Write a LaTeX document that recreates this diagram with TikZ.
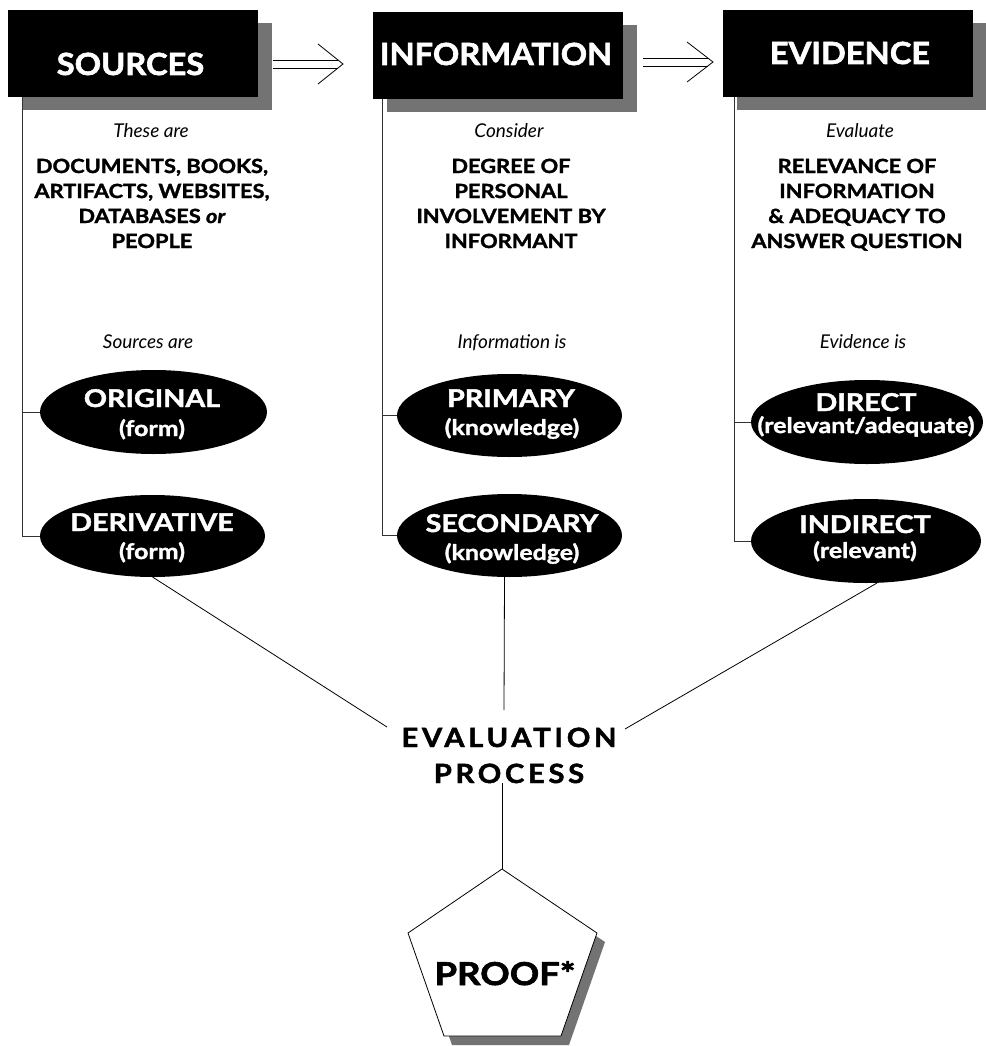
\documentclass[tikz,border=0pt]{standalone}
\usepackage{fontspec}
\setmainfont{Lato}
\usetikzlibrary{shapes.geometric}
\tikzset{
  hbox/.style={fill=black, minimum width=250pt, minimum height=87pt, inner sep=0pt, outer sep=0pt},
  hshadow/.style={fill=black!55, minimum width=250pt, minimum height=87pt, inner sep=0pt, outer sep=0pt},
  htext/.style={text=white, font=\fontsize{30.5}{30.5}\selectfont\bfseries\addfontfeatures{FakeStretch=1.07,FakeBold=2}, anchor=base, inner sep=0pt},
  ital/.style={font=\fontsize{19}{19}\selectfont\itshape, anchor=base, inner sep=0pt},
  bodyline/.style={font=\fontsize{19.5}{19.5}\selectfont\bfseries\addfontfeatures{FakeStretch=1.12,FakeBold=1.6}, anchor=base, inner sep=0pt},
  ellbg/.style={ellipse, fill=black, inner sep=0pt, outer sep=0pt},
  etitle/.style={text=white, font=\fontsize{24.5}{24.5}\selectfont\bfseries\addfontfeatures{FakeStretch=1.17,FakeBold=1.8}, anchor=base, inner sep=0pt},
  esub/.style={text=white, font=\fontsize{21.5}{21.5}\selectfont\bfseries\addfontfeatures{FakeStretch=1.16,FakeBold=1.5}, anchor=base, inner sep=0pt},
  vline/.style={draw=black!80, line width=0.9pt},
  conn/.style={draw=black, line width=0.8pt},
  arrline/.style={draw=black, line width=0.8pt},
  evtext/.style={font=\fontsize{26.5}{26.5}\selectfont\bfseries\addfontfeatures{FakeStretch=1.1,FakeBold=1.8,LetterSpace=14}, anchor=base, inner sep=0pt},
  prooftext/.style={font=\fontsize{31.5}{31.5}\selectfont\bfseries\addfontfeatures{FakeStretch=1.16,FakeBold=2}, anchor=base, inner sep=0pt},
}
\begin{document}
\begin{tikzpicture}[x=1pt,y=-1pt]
\useasboundingbox (0,0) rectangle (985,1046);
\fill[white] (0,0) rectangle (985,1046);

% header boxes with shadows
\node[hshadow] (srcsh) at (146.5,67) {};
\node[hbox] (srcbox) at (133,53.5) {};
\node[hshadow] (infsh) at (511.5,69) {};
\node[hbox] (infbox) at (498,55.5) {};
\node[hshadow] (evdsh) at (861.5,67) {};
\node[hbox] (evdbox) at (848,53.5) {};
\node[htext] (srct) at (130.5,75) {SOURCES};
\node[htext] (inft) at (496,65) {INFORMATION};
\node[htext] (evdt) at (850,64) {EVIDENCE};

% double arrows
\coordinate (a1s) at (273,64);
\coordinate (a1e) at (343,64);
\draw[arrline] ([yshift=4pt]a1s) -- ([xshift=-5pt,yshift=4pt]a1e);
\draw[arrline] ([yshift=-4pt]a1s) -- ([xshift=-5pt,yshift=-4pt]a1e);
\draw[arrline] ([xshift=-25pt,yshift=20pt]a1e) -- (a1e) -- ([xshift=-25pt,yshift=-20pt]a1e);
\coordinate (a2s) at (643,62);
\coordinate (a2e) at (713,62);
\draw[arrline] ([yshift=4pt]a2s) -- ([xshift=-5pt,yshift=4pt]a2e);
\draw[arrline] ([yshift=-4pt]a2s) -- ([xshift=-5pt,yshift=-4pt]a2e);
\draw[arrline] ([xshift=-26pt,yshift=20pt]a2e) -- (a2e) -- ([xshift=-26pt,yshift=-20pt]a2e);

% column texts
\node[ital] (srci1) at (151,138) {These are};
\node[bodyline] (srcb1) at (152,173) {DOCUMENTS, BOOKS,};
\node[bodyline] (srcb2) at (152,198) {ARTIFACTS, WEBSITES,};
\node[bodyline] (srcb3) at (152,223) {DATABASES \textit{or}};
\node[bodyline] (srcb4) at (152,248) {PEOPLE};
\node[ital] (srci2) at (148,348) {Sources are};

\node[ital] (infi1) at (509,138) {Consider};
\node[bodyline] (infb1) at (511,173) {DEGREE OF};
\node[bodyline] (infb2) at (511,198) {PERSONAL};
\node[bodyline] (infb3) at (511,223) {INVOLVEMENT BY};
\node[bodyline] (infb4) at (511,248) {INFORMANT};
\node[ital] (infi2) at (512,348) {Information is};

\node[ital] (evdi1) at (860,138) {Evaluate};
\node[bodyline] (evdb1) at (857,173) {RELEVANCE OF};
\node[bodyline] (evdb2) at (857,198) {INFORMATION};
\node[bodyline] (evdb3) at (857,223) {\& ADEQUACY TO};
\node[bodyline] (evdb4) at (857,248) {ANSWER QUESTION};
\node[ital] (evdi2) at (863,348) {Evidence is};

% ellipses
\node[ellbg, minimum width=227pt, minimum height=84pt] (orig) at (153.5,412) {};
\node[ellbg, minimum width=225pt, minimum height=82pt] (deriv) at (152.5,536) {};
\node[ellbg, minimum width=225pt, minimum height=83pt] (prim) at (509.5,415.5) {};
\node[ellbg, minimum width=225pt, minimum height=83pt] (sec) at (509.5,535.5) {};
\node[ellbg, minimum width=232pt, minimum height=84pt] (dir) at (867,422) {};
\node[ellbg, minimum width=230pt, minimum height=84pt] (ind) at (866,541) {};

\node[etitle] (origt) at (152,407) {ORIGINAL};
\node[esub] (origs) at (152,436) {(form)};
\node[etitle] (derivt) at (152,531) {DERIVATIVE};
\node[esub] (derivs) at (152,559) {(form)};
\node[etitle] (primt) at (511,407) {PRIMARY};
\node[esub] (prims) at (512,435) {(knowledge)};
\node[etitle] (sect) at (512,532) {SECONDARY};
\node[esub] (secs) at (512,560) {(knowledge)};
\node[etitle] (dirt) at (866,411) {DIRECT};
\node[esub] (dirs) at (866,433) {(relevant/adequate)};
\node[etitle] (indt) at (865,533) {INDIRECT};
\node[esub] (inds) at (865,558) {(relevant)};

% column lines
\coordinate (srcl) at (22,97);
\draw[vline] (srcl) |- (deriv.west);
\draw[vline] (orig.west) -- (orig.west -| srcl);
\coordinate (infl) at (382,99);
\draw[vline] (infl) |- (sec.west);
\draw[vline] (prim.west) -- (prim.west -| infl);
\coordinate (evdl) at (734,97);
\draw[vline] (evdl) |- (ind.west);
\draw[vline] (dir.west) -- (dir.west -| evdl);

% evaluation process
\node[evtext] (evalt1) at (509,747) {EVALUATION};
\node[evtext] (evalt2) at (509,783) {PROCESS};
\coordinate (eL) at (387,727);
\coordinate (eT) at (504,710);
\coordinate (eR) at (625,729);
\coordinate (eB) at (502,783);
\draw[conn] (deriv.south) -- (eL);
\draw[conn] ([xshift=-5pt]sec.south) -- (eT);
\draw[conn] ([xshift=11pt]ind.south) -- (eR);

% proof pentagon
\coordinate (ptop) at (502,869);
\fill[black!55] (510,878) -- (605,942) -- (569,1045) -- (452,1045) -- (416,942) -- cycle;
\draw[fill=white, line width=0.8pt] (ptop) -- (597,933) -- (561,1036) -- (444,1036) -- (408,933) -- cycle;
\node[prooftext] (proof) at (505,985) {PROOF*};
\draw[conn] (eB) -- (ptop);
\end{tikzpicture}
\end{document}
